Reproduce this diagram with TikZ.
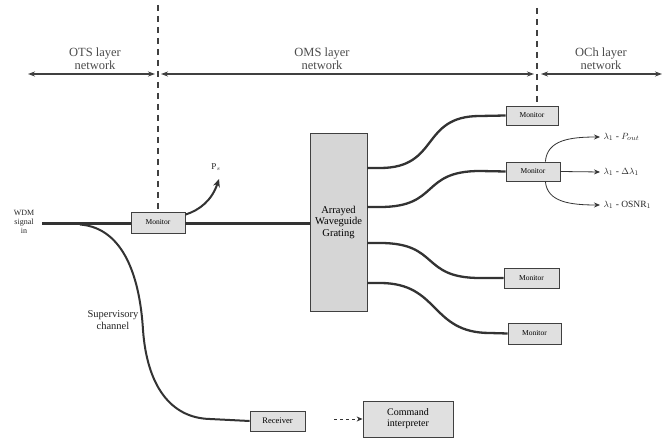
\documentclass[tikz,border=0pt]{standalone}
\usepackage{fontspec}
\setmainfont{Liberation Serif}
\usetikzlibrary{arrows.meta}
\begin{document}
\begin{tikzpicture}[x=1pt,y=-1pt,
  box/.style={draw=black!75,line width=0.8pt,fill=black!12,font=\fontsize{7.5}{8.5}\selectfont,inner sep=1pt,align=center},
  hdr/.style={font=\fontsize{12.5}{13}\selectfont,align=center,text=black!70},
  lbl/.style={font=\fontsize{8}{9}\selectfont,align=center,text=black!85},
  layer/.style={line width=1.1pt,draw=black!75,{Stealth[length=7pt,width=5pt]}-{Stealth[length=7pt,width=5pt]}},
  sep/.style={line width=1.6pt,draw=black!75,dash pattern=on 6pt off 5pt},
  fibre/.style={line width=3pt,draw=black!80},
  thin/.style={line width=0.8pt,draw=black!80,-{Stealth[length=6pt,width=5pt]}}]
\useasboundingbox (0,0) rectangle (667,438);
\fill[white] (0,0) rectangle (667,438);
% boxes
\node[box,minimum width=54pt,minimum height=21pt] (m0) at (158,222.5) {Monitor};
\node[box,fill=black!16,font=\fontsize{10.5}{11.5}\selectfont,minimum width=57pt,minimum height=178pt] (awg) at (338.5,222) {Arrayed\\Waveguide\\Grating};
\node[box,minimum width=52pt,minimum height=19pt] (m1) at (532,115.5) {Monitor};
\node[box,minimum width=54pt,minimum height=19pt] (m2) at (533,171.5) {Monitor};
\node[box,minimum width=55pt,minimum height=20pt] (m3) at (531.5,278) {Monitor};
\node[box,minimum width=53pt,minimum height=21pt] (m4) at (534.5,333.5) {Monitor};
\node[box,font=\fontsize{8.5}{9.5}\selectfont,minimum width=55pt,minimum height=20pt] (m5) at (277.5,421) {Receiver};
\node[box,font=\fontsize{10}{11}\selectfont,minimum width=90pt,minimum height=36pt] (ci) at (408,419) {Command\\interpreter};
% headers
\node[hdr] (h1) at (95,59) {OTS layer\\network};
\node[hdr] (h2) at (322,59) {OMS layer\\network};
\node[hdr] (h3) at (601,59) {OCh layer\\network};
\coordinate (a0) at (28,74);
\coordinate (a1) at (155,74);
\coordinate (a2) at (161,74);
\coordinate (a3) at (534,74);
\coordinate (a4) at (541,74);
\coordinate (a5) at (662,74);
\draw[layer] (a0) -- (a1);
\draw[layer] (a2) -- (a3);
\draw[layer] (a4) -- (a5);
\coordinate (d1) at (158,5);
\coordinate (d2) at (537,8);
\draw[sep] (d1) -- (m0.north);
\draw[sep] (d2) -- (m1.north-|d2);
% input
\node[lbl,anchor=center] (win) at (24,222) {WDM\\signal\\in};
\coordinate (in) at (42,224);
\coordinate (tap) at (80,224.5);
\draw[fibre] (in) -- (m0.west|-in);
\draw[fibre] (m0.east|-in) -- (awg.west|-in);
% Ps
\node[lbl,font=\fontsize{9}{10}\selectfont] (ps) at (216,167) {P$_s$};
\coordinate (pstip) at (219,179);
\draw[line width=2pt,draw=black!80,-{Stealth[length=8pt,width=7pt]}] ([yshift=-3pt]m0.north east) .. controls (200,210) and (212,200) .. (pstip);
% supervisory
\draw[line width=2pt,draw=black!80] (tap) .. controls (125,228) and (140,280) .. (143,330) .. controls (147,385) and (170,418) .. (210,419) -- (m5.west);
\node[lbl,font=\fontsize{10.5}{11.5}\selectfont] (sup) at (113,320) {Supervisory\\channel};
\draw[line width=0.9pt,draw=black!80,dashed,-{Stealth[length=6pt,width=5pt]}] (334,419) -- (ci.west);
% AWG outputs
\coordinate (o1) at (367,168);
\coordinate (o2) at (367,207);
\coordinate (o3) at (367,243);
\coordinate (o4) at (367,283);
\draw[line width=2.3pt,draw=black!80] (o1) -- (380,168) .. controls (440,168) and (420,116) .. (480,116) -- (m1.west);
\draw[line width=2.3pt,draw=black!80] (o2) -- (380,207) .. controls (440,207) and (420,171) .. (480,171) -- (m2.west);
\draw[line width=2.3pt,draw=black!80] (o3) -- (380,243) .. controls (440,243) and (420,278) .. (480,278) -- (m3.west);
\draw[line width=2.3pt,draw=black!80] (o4) -- (380,283) .. controls (440,283) and (430,333) .. (490,333) -- (m4.west);
% channel outputs
\node[lbl,font=\fontsize{9.5}{10.5}\selectfont,anchor=west] (l1) at (600,137) {$\lambda_1$ - $P_{out}$};
\node[lbl,font=\fontsize{9.5}{10.5}\selectfont,anchor=west] (l2) at (600,172) {$\lambda_1$ - $\Delta\lambda_1$};
\node[lbl,font=\fontsize{9.5}{10.5}\selectfont,anchor=west] (l3) at (600,205) {$\lambda_1$ - OSNR$_1$};
\draw[thin] ([xshift=-15pt]m2.north east) .. controls (547,140) and (570,137) .. (l1.west);
\draw[thin] (m2.east) -- (l2.west);
\draw[thin] ([xshift=-15pt]m2.south east) .. controls (547,202) and (570,205) .. (l3.west);
\end{tikzpicture}
\end{document}
